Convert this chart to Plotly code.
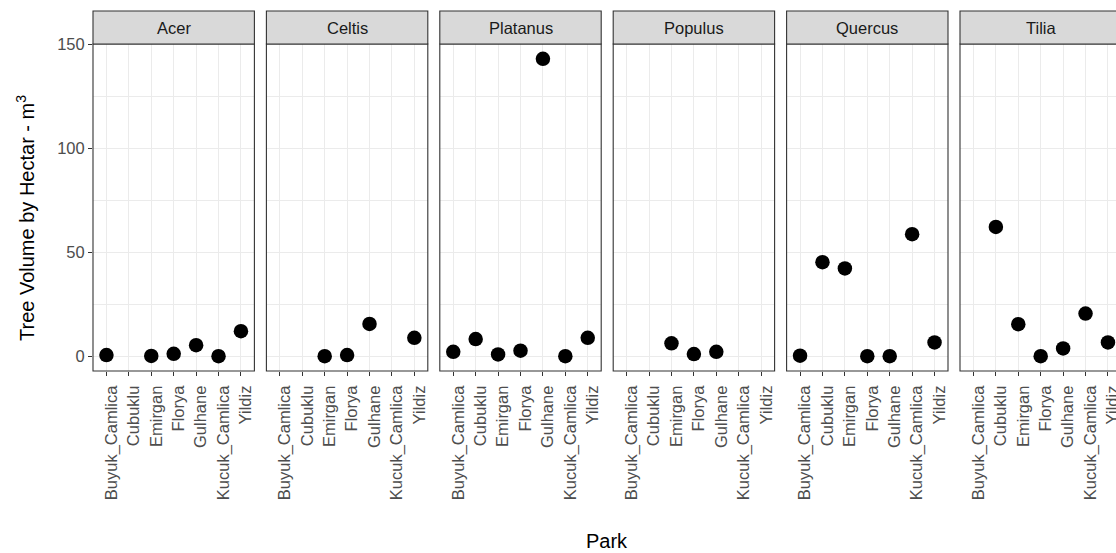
import plotly.graph_objects as go

genera = ["Acer", "Celtis", "Platanus", "Populus", "Quercus", "Tilia"]
parks = ["Buyuk_Camlica", "Cubuklu", "Emirgan", "Florya", "Gulhane", "Kucuk_Camlica", "Yildiz"]

acer = [0.5, None, 0.1, 1.1, 5.3, 0.0, 12.0]
celtis = [None, None, 0.0, 0.5, 15.5, None, 8.8]
platanus = [2.1, 8.2, 0.8, 2.6, 143.1, 0.0, 8.8]
populus = [None, None, 6.2, 1.0, 2.1, None, None]
quercus = [0.2, 45.2, 42.2, 0.0, 0.0, 58.7, 6.6]
tilia = [None, 62.2, 15.4, 0.0, 3.7, 20.5, 6.6]

series = [acer, celtis, platanus, populus, quercus, tilia]

W, H = 1116, 553
panel_left = [93, 266.4, 439.8, 613.2, 786.6, 960]
panel_w = 161.4
top_px, bot_px = 44, 371
strip_top = 11

allv = [v for s in series for v in s if v is not None]
ymin, ymax = min(allv), max(allv)
pad = 0.05 * (ymax - ymin)
yrange = [ymin - pad, ymax + pad]

FONT = "Liberation Sans, Arial, Helvetica, sans-serif"
fig = go.Figure()
shapes = []
annotations = []
unit = panel_w / 7.2

for i, (g, vals) in enumerate(zip(genera, series)):
    n = "" if i == 0 else str(i + 1)
    fig.add_trace(go.Scatter(
        x=parks, y=vals, mode="markers",
        marker=dict(color="black", size=14.5, line=dict(width=0)),
        xaxis="x" + n, yaxis="y" + n, showlegend=False, cliponaxis=False,
    ))
    x0 = panel_left[i]
    x1 = x0 + panel_w
    xr_hi = 6.6
    if x1 > W:
        xr_hi = 6.6 - (x1 - W) / unit
        d1 = 1.0
    else:
        d1 = x1 / W
    xa = dict(
        domain=[x0 / W, d1], anchor="y" + n,
        type="category", categoryorder="array", categoryarray=parks,
        range=[-0.6, xr_hi],
        showgrid=True, gridcolor="#EBEBEB", gridwidth=1.2,
        ticks="outside", ticklen=4, tickwidth=1.1, tickcolor="#333333",
        tickangle=-90, tickfont=dict(size=16.5, color="#4D4D4D", family=FONT),
        ticklabelshift=5, ticklabelstandoff=3,
        showline=False, zeroline=False, automargin=False,
    )
    ya = dict(
        domain=[1 - bot_px / H, 1 - top_px / H], anchor="x" + n,
        range=yrange, tick0=0, dtick=50,
        showgrid=True, gridcolor="#EBEBEB", gridwidth=1.2,
        minor=dict(dtick=25, showgrid=True, gridcolor="#EBEBEB", gridwidth=0.6),
        zeroline=False, showline=False, automargin=False,
    )
    if i == 0:
        ya.update(ticks="outside", ticklen=4, tickwidth=1.1, tickcolor="#333333",
                  tickfont=dict(size=16.5, color="#4D4D4D", family=FONT))
    else:
        ya.update(showticklabels=False, ticks="")
    fig.layout["xaxis" + n] = xa
    fig.layout["yaxis" + n] = ya

    # panel border
    shapes.append(dict(type="rect", xref="paper", yref="paper",
                       x0=x0 / W, x1=x1 / W, y0=1 - bot_px / H, y1=1 - top_px / H,
                       line=dict(color="#333333", width=1.1), fillcolor="rgba(0,0,0,0)",
                       layer="above"))
    # strip
    shapes.append(dict(type="rect", xref="paper", yref="paper",
                       x0=x0 / W, x1=x1 / W, y0=1 - top_px / H, y1=1 - strip_top / H,
                       line=dict(color="#333333", width=1.1), fillcolor="#D9D9D9",
                       layer="above"))
    annotations.append(dict(text=g, xref="paper", yref="paper",
                            x=(x0 + panel_w / 2) / W, y=1 - ((top_px + strip_top) / 2) / H,
                            xanchor="center", yanchor="middle", showarrow=False,
                            font=dict(size=16.5, color="#1A1A1A", family=FONT)))

annotations.append(dict(text="Tree Volume by Hectar - m<sup>3</sup>", xref="paper", yref="paper",
                        x=25 / W, y=1 - 218 / H, textangle=-90, showarrow=False,
                        xanchor="center", yanchor="middle",
                        font=dict(size=20, color="black", family=FONT)))
annotations.append(dict(text="Park", xref="paper", yref="paper",
                        x=607 / W, y=1 - 541 / H, showarrow=False,
                        xanchor="center", yanchor="middle",
                        font=dict(size=20, color="black", family=FONT)))

fig.update_layout(
    width=W, height=H, margin=dict(l=0, r=0, t=0, b=0),
    paper_bgcolor="white", plot_bgcolor="white",
    shapes=shapes, annotations=annotations,
    font=dict(family=FONT),
)

fig.write_html("out.html")
